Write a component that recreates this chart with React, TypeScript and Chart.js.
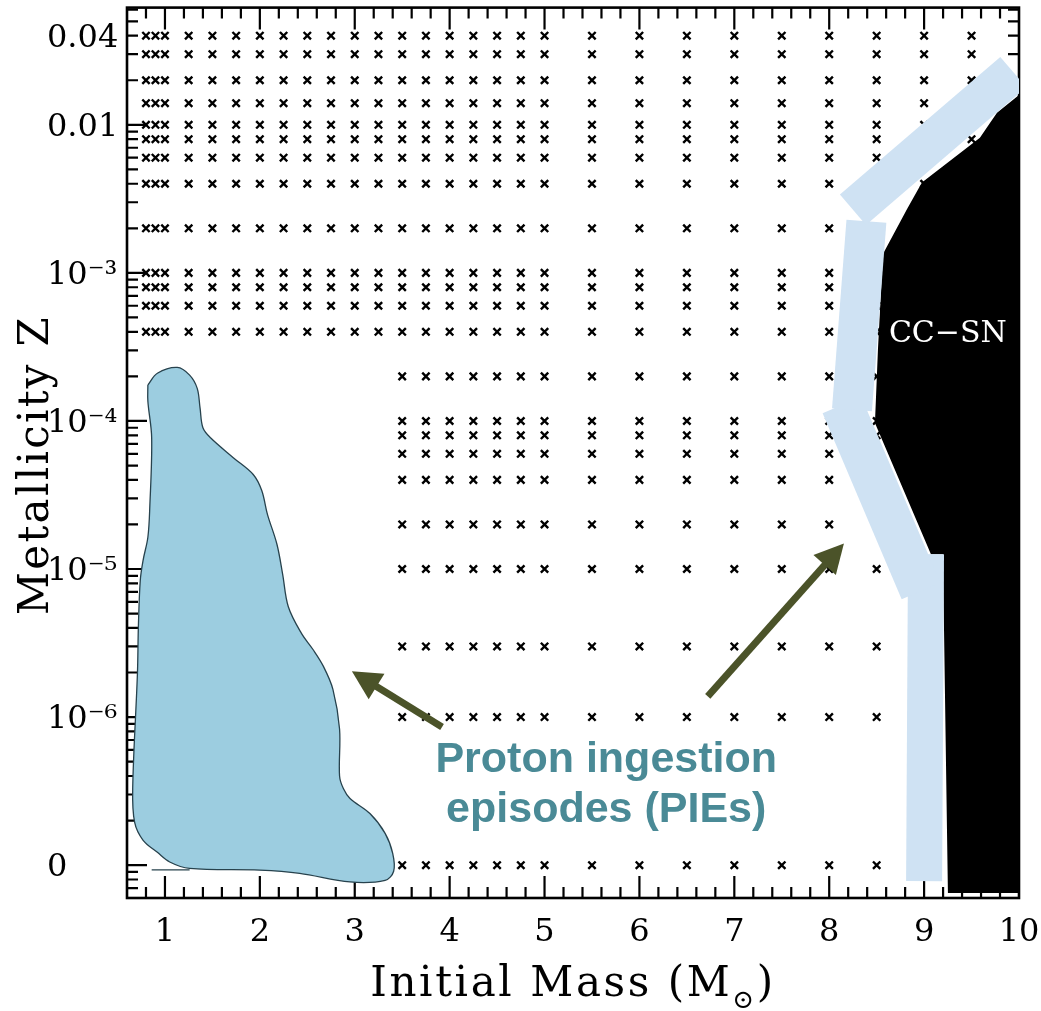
import React, { useEffect, useRef } from "react";
import { Chart, registerables } from "chart.js";

Chart.register(...registerables);

const W = 1041;
const H = 1011;

// ---------- axes ----------
const X_MIN = 0.6;
const X_MAX = 10;
const Y_MIN = 6.49e-8;
const Y_MAX = 0.0619;

const xTickValues = [1, 2, 3, 4, 5, 6, 7, 8, 9, 10];
const yTickValues = [1e-7, 1e-6, 1e-5, 1e-4, 1e-3, 0.01, 0.04];
const yTickLabels = ["0", "10⁻⁶", "10⁻⁵", "10⁻⁴", "10⁻³", "0.01", "0.04"];
// Z = 0 models are drawn on the row labelled "0"
const ZERO_Z_POSITION = 1e-7;

// ---------- computed model grid ----------
const upperZ = [0.04, 0.03, 0.02, 0.014, 0.01, 0.008, 0.006, 0.004, 0.002, 0.001, 0.0008, 0.0006, 0.0004];
const upperMasses = [0.8, 0.9, 1.0, 1.25, 1.5, 1.75, 2.0, 2.25, 2.5, 2.75, 3.0, 3.25, 3.5, 3.75, 4.0, 4.25, 4.5, 4.75, 5.0, 5.5, 6.0, 6.5, 7.0, 7.5, 8.0, 8.5, 9.0, 9.5];
const lowerZ = [2e-4, 1e-4, 8e-5, 6e-5, 4e-5, 2e-5, 1e-5, 3e-6, 1e-6, 0];
const lowerMasses = [3.5, 3.75, 4.0, 4.25, 4.5, 4.75, 5.0, 5.5, 6.0, 6.5, 7.0, 7.5, 8.0, 8.5];

// ---------- PIE region outline ----------
const pieMass = [0.82, 0.92, 1.13, 1.26, 1.34, 1.37, 1.40, 1.48, 1.72, 1.93, 2.02, 2.08, 2.18, 2.24, 2.30, 2.44, 2.56, 2.67, 2.77, 2.84, 2.84, 2.88, 2.95, 3.16, 3.32, 3.40, 3.41, 3.32, 2.95, 2.42, 2.00, 1.26, 1.05, 0.92, 0.77, 0.68, 0.66, 0.71, 0.72, 0.74, 0.77, 0.82, 0.84, 0.86, 0.82];
const pieZ = [1.75e-4, 2.1e-4, 2.3e-4, 2.04e-4, 1.66e-4, 1.22e-4, 9.0e-5, 7.7e-5, 5.65e-5, 4.35e-5, 3.39e-5, 2.34e-5, 1.47e-5, 9.25e-6, 5.56e-6, 3.66e-6, 2.86e-6, 2.2e-6, 1.54e-6, 8.3e-7, 4.0e-7, 3.29e-7, 2.82e-7, 2.23e-7, 1.64e-7, 1.2e-7, 9.1e-8, 7.9e-8, 7.7e-8, 8.8e-8, 9.25e-8, 9.5e-8, 1.05e-7, 1.22e-7, 1.47e-7, 1.95e-7, 3.29e-7, 1.97e-6, 4.08e-6, 8.4e-6, 1.15e-5, 1.64e-5, 2.6e-5, 7.7e-5, 1.36e-4];
const pieStubMass = [0.86, 1.26];
const pieStubZ = [9.3e-8, 9.3e-8];

// ---------- CC-SN region ----------
const ccsnMass = [10.0, 9.768, 9.694, 9.588, 8.977, 8.819, 8.566, 8.514, 8.482, 9.072, 9.198, 9.251, 10.0, 10.0];
const ccsnZ = [0.0159, 0.01205, 0.0103, 8.18e-3, 4.08e-3, 2.69e-3, 1.34e-3, 3.09e-4, 9.7e-5, 1.26e-5, 1.26e-5, Y_MIN, Y_MIN, 0.0159];

// ---------- boundary bands ----------
const band1Mass = [8.25, 9.94];
const band1Z = [2.67e-3, 0.0227];
const band2Mass = [8.392, 8.24];
const band2Z = [2.23e-3, 1.19e-4];
const band3Mass = [8.134, 8.967];
const band3Z = [1.28e-4, 7.11e-6];
const band4Mass = [9.02, 9.0];
const band4Z = [1.26e-5, 7.8e-8];

// ---------- annotations ----------
const arrowPie = { fromMass: 3.92, fromZ: 8.57e-7, toMass: 2.97, toZ: 2.04e-6 };
const arrowBoundary = { fromMass: 6.72, fromZ: 1.38e-6, toMass: 8.155, toZ: 1.49e-5 };
const pieLabelLines = ["Proton ingestion", "episodes (PIEs)"];
const pieLabelAnchor = { mass: 5.65, z: [4.27e-7, 1.95e-7] };
const ccsnLabel = "CC−SN";
const ccsnLabelAnchor = { mass: 9.25, z: 3.84e-4 };

const zip = (xs: number[], ys: number[]) => xs.map((x, i) => ({ x, y: ys[i] }));
const closed = (xs: number[], ys: number[]) => {
  const p = zip(xs, ys);
  p.push({ ...p[0] });
  return p;
};
const grid = (masses: number[], zs: number[]) => {
  const pts: { x: number; y: number }[] = [];
  for (const z of zs) for (const m of masses) pts.push({ x: m, y: z === 0 ? ZERO_Z_POSITION : z });
  return pts;
};

const BAND = "#cfe2f3";
const ARROW = "#4b5329";
const TEAL = "#4a8a96";
const SERIF = '"DejaVu Serif", serif';

const noPad = (s: any) => {
  s.paddingTop = 0;
  s.paddingBottom = 0;
  s.paddingLeft = 0;
  s.paddingRight = 0;
};

const frameAndTicks = {
  id: "frameAndTicks",
  beforeDatasetsDraw(chart: any) {
    const { ctx, chartArea: a, scales } = chart;
    const xs = scales.x;
    const ys = scales.y;
    ctx.save();
    ctx.strokeStyle = "#000";
    ctx.lineWidth = 2.2;
    ctx.lineCap = "butt";
    ctx.beginPath();
    for (let i = 4; i <= 49; i++) {
      const px = xs.getPixelForValue(i / 5);
      const L = i % 5 === 0 ? 22 : 11;
      ctx.moveTo(px, a.bottom);
      ctx.lineTo(px, a.bottom - L);
      ctx.moveTo(px, a.top);
      ctx.lineTo(px, a.top + L);
    }
    for (let e = -8; e <= -1; e++) {
      for (let k = 1; k <= 9; k++) {
        const v = k * Math.pow(10, e);
        if (v <= Y_MIN || v >= Y_MAX) continue;
        const py = ys.getPixelForValue(v);
        const L = k === 1 ? 20 : 11;
        ctx.moveTo(a.left, py);
        ctx.lineTo(a.left + L, py);
        ctx.moveTo(a.right, py);
        ctx.lineTo(a.right - L, py);
      }
    }
    ctx.stroke();
    ctx.lineWidth = 2.6;
    ctx.strokeRect(a.left, a.top, a.right - a.left, a.bottom - a.top);
    ctx.restore();
  },
};

function drawArrow(ctx: CanvasRenderingContext2D, x1: number, y1: number, x2: number, y2: number) {
  const dx = x2 - x1;
  const dy = y2 - y1;
  const len = Math.hypot(dx, dy);
  const ux = dx / len;
  const uy = dy / len;
  const headLen = 29;
  const headHalf = 15;
  const bx = x2 - ux * headLen;
  const by = y2 - uy * headLen;
  ctx.strokeStyle = ARROW;
  ctx.fillStyle = ARROW;
  ctx.lineWidth = 7;
  ctx.lineCap = "butt";
  ctx.beginPath();
  ctx.moveTo(x1, y1);
  ctx.lineTo(bx + ux * 3, by + uy * 3);
  ctx.stroke();
  ctx.beginPath();
  ctx.moveTo(x2, y2);
  ctx.lineTo(bx - uy * headHalf, by + ux * headHalf);
  ctx.lineTo(bx + uy * headHalf, by - ux * headHalf);
  ctx.closePath();
  ctx.fill();
}

const annotations = {
  id: "annotations",
  afterDatasetsDraw(chart: any) {
    const { ctx, chartArea: a, scales } = chart;
    const xs = scales.x;
    const ys = scales.y;
    ctx.save();
    for (const ar of [arrowPie, arrowBoundary]) {
      drawArrow(
        ctx,
        xs.getPixelForValue(ar.fromMass),
        ys.getPixelForValue(ar.fromZ),
        xs.getPixelForValue(ar.toMass),
        ys.getPixelForValue(ar.toZ)
      );
    }
    // PIE label
    ctx.font = 'bold 43px "Liberation Sans", Arial, sans-serif';
    ctx.fillStyle = TEAL;
    ctx.textAlign = "center";
    ctx.textBaseline = "alphabetic";
    pieLabelLines.forEach((t, i) => {
      ctx.fillText(t, xs.getPixelForValue(pieLabelAnchor.mass), ys.getPixelForValue(pieLabelAnchor.z[i]));
    });
    // CC-SN label
    ctx.font = `30px ${SERIF}`;
    ctx.fillStyle = "#fff";
    ctx.textBaseline = "middle";
    ctx.fillText(ccsnLabel, xs.getPixelForValue(ccsnLabelAnchor.mass), ys.getPixelForValue(ccsnLabelAnchor.z));

    // x axis title
    ctx.fillStyle = "#000";
    (ctx as any).letterSpacing = "2.6px";
    ctx.textBaseline = "alphabetic";
    ctx.textAlign = "left";
    const big = `42px ${SERIF}`;
    const sub = `26px ${SERIF}`;
    ctx.font = big;
    const p1 = "Initial Mass (M";
    const w1 = ctx.measureText(p1).width;
    const w3 = ctx.measureText(")").width;
    ctx.font = sub;
    const w2 = ctx.measureText("⊙").width;
    const total = w1 + w2 + w3;
    const cx = (a.left + a.right) / 2;
    const x0 = cx - total / 2;
    const base = a.bottom + 98;
    ctx.font = big;
    ctx.fillText(p1, x0, base);
    ctx.font = sub;
    ctx.fillText("⊙", x0 + w1, base + 12);
    ctx.font = big;
    ctx.fillText(")", x0 + w1 + w2, base);

    // y axis title
    (ctx as any).letterSpacing = "2.3px";
    ctx.save();
    ctx.translate(48, 465);
    ctx.rotate(-Math.PI / 2);
    ctx.textAlign = "center";
    ctx.font = big;
    ctx.fillText("Metallicity Z", 0, 0);
    ctx.restore();
    (ctx as any).letterSpacing = "0px";
    ctx.restore();
  },
};

export default function App() {
  const ref = useRef<HTMLCanvasElement>(null);
  useEffect(() => {
    const canvas = ref.current;
    if (!canvas) return;
    const bandDs = (xs: number[], ys: number[], width: number) => ({
      type: "line" as const,
      data: zip(xs, ys),
      borderColor: BAND,
      borderWidth: width,
      borderCapStyle: "butt",
      borderJoinStyle: "miter",
      pointRadius: 0,
      pointHitRadius: 0,
      tension: 0,
      fill: false,
      order: 3,
    });
    const chart = new Chart(canvas, {
      type: "line",
      data: {
        datasets: [
          {
            type: "line",
            label: "models",
            data: [...grid(upperMasses, upperZ), ...grid(lowerMasses, lowerZ)],
            showLine: false,
            pointStyle: "crossRot",
            pointRadius: 5.2,
            pointHoverRadius: 5.2,
            pointBorderWidth: 2.4,
            pointBorderColor: "#000",
            pointBackgroundColor: "#000",
            borderColor: "#000",
            order: 5,
          },
          {
            type: "line",
            label: "CC-SN",
            data: closed(ccsnMass, ccsnZ),
            borderWidth: 0,
            borderColor: "#000",
            backgroundColor: "#000",
            fill: "shape",
            pointRadius: 0,
            tension: 0,
            order: 4,
          },
          bandDs(band1Mass, band1Z, 40),
          bandDs(band2Mass, band2Z, 40),
          bandDs(band3Mass, band3Z, 42),
          bandDs(band4Mass, band4Z, 36),
          {
            type: "line",
            label: "PIEs",
            data: closed(pieMass, pieZ),
            borderWidth: 1.3,
            borderColor: "#27424d",
            backgroundColor: "#9ccde0",
            fill: "shape",
            pointRadius: 0,
            tension: 0.35,
            order: 2,
          },
          {
            type: "line",
            label: "stub",
            data: zip(pieStubMass, pieStubZ),
            borderWidth: 1.3,
            borderColor: "#27424d",
            pointRadius: 0,
            fill: false,
            order: 1,
          },
        ] as any,
      },
      options: {
        responsive: false,
        animation: false,
        devicePixelRatio: 1,
        events: [],
        layout: { padding: { left: 47, top: 7, right: 22, bottom: 0 } },
        plugins: {
          legend: { display: false },
          tooltip: { enabled: false },
          title: { display: false },
        },
        scales: {
          x: {
            type: "linear",
            min: X_MIN,
            max: X_MAX,
            grid: { display: false },
            border: { display: false },
            afterFit: (s: any) => {
              s.height = 113;
              noPad(s);
            },
            afterBuildTicks: (s: any) => {
              s.ticks = xTickValues.map((v) => ({ value: v }));
            },
            ticks: {
              autoSkip: false,
              maxRotation: 0,
              minRotation: 0,
              padding: 7,
              color: "#000",
              font: { family: SERIF, size: 32 },
              callback: (v: any) => String(v),
            },
          },
          y: {
            type: "logarithmic",
            min: Y_MIN,
            max: Y_MAX,
            grid: { display: false },
            border: { display: false },
            afterFit: (s: any) => {
              s.width = 80;
              noPad(s);
            },
            afterBuildTicks: (s: any) => {
              s.ticks = yTickValues.map((v) => ({ value: v }));
            },
            ticks: {
              autoSkip: false,
              crossAlign: "far",
              padding: 0,
              labelOffset: 3,
              color: "#000",
              font: { family: SERIF, size: 32 },
              callback: (_v: any, i: number) => yTickLabels[i],
            },
          },
        },
      } as any,
      plugins: [frameAndTicks, annotations],
    });
    return () => chart.destroy();
  }, []);
  return (
    <div style={{ position: "absolute", left: 0, top: 0, width: W, height: H, background: "#fff" }}>
      <canvas ref={ref} width={W} height={H} style={{ display: "block", width: W, height: H }} />
    </div>
  );
}
